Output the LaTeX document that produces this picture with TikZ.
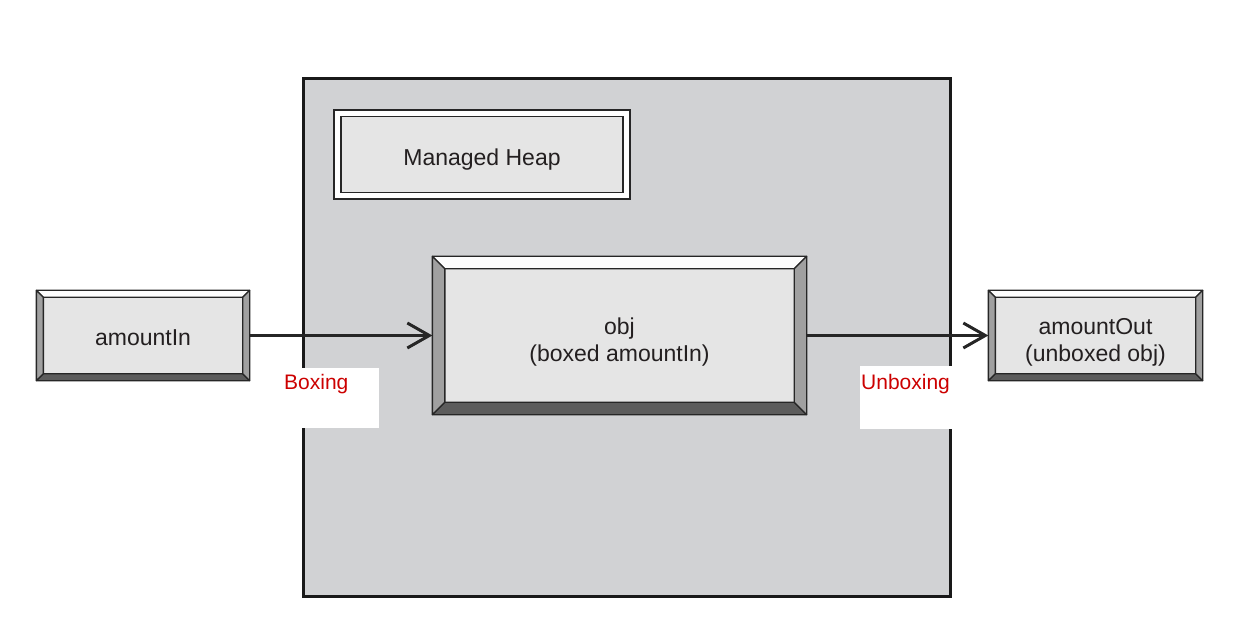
\documentclass[tikz,border=0pt]{standalone}
\usepackage{fontspec}
\setmainfont{Liberation Sans}
\usetikzlibrary{arrows.meta,calc}
\definecolor{heapfill}{RGB}{209,210,212}
\definecolor{boxfill}{RGB}{229,229,229}
\definecolor{bevside}{RGB}{160,160,160}
\definecolor{bevbot}{RGB}{92,92,92}
\definecolor{bevtop}{RGB}{253,253,253}
\definecolor{txt}{RGB}{35,31,32}
\definecolor{lblred}{RGB}{204,0,0}
\newcommand{\bevelit}[2]{%
  \filldraw[bevline,fill=bevtop] (#1.north west) -- (#1.north east) -- ([shift={(-#2,-#2)}]#1.north east) -- ([shift={(#2,-#2)}]#1.north west) -- cycle;
  \filldraw[bevline,fill=bevbot] (#1.south west) -- (#1.south east) -- ([shift={(-#2,#2)}]#1.south east) -- ([shift={(#2,#2)}]#1.south west) -- cycle;
  \filldraw[bevline,fill=bevside] (#1.north west) -- (#1.south west) -- ([shift={(#2,#2)}]#1.south west) -- ([shift={(#2,-#2)}]#1.north west) -- cycle;
  \filldraw[bevline,fill=bevside] (#1.north east) -- (#1.south east) -- ([shift={(-#2,#2)}]#1.south east) -- ([shift={(-#2,-#2)}]#1.north east) -- cycle;
}
\newcommand{\dn}[1]{\rule{0pt}{#1}}
\tikzset{
  x=1pt,y=1pt,
  bevline/.style={draw=black!85,line width=1.3pt,line join=round},
  bevnode/.style={draw=black!85,line width=1.3pt,fill=boxfill,inner sep=0pt,align=center,
    font=\fontsize{23}{27}\selectfont,text=txt},
  heap/.style={draw=black!90,line width=3pt,fill=heapfill,inner sep=0pt},
  conn/.style={line width=3pt,draw=black!85,-{Straight Barb[length=22pt,width=25pt,line width=3pt]}},
  lbl/.style={text=lblred,font=\fontsize{21}{25}\selectfont,inner sep=0pt,anchor=west},
  mask/.style={fill=white,draw=none}
}
\begin{document}
\begin{tikzpicture}
\useasboundingbox (0,0) rectangle (1249,627);
% managed heap area
\node[heap,minimum width=647,minimum height=517] (heap) at (626.5,289.5) {};
% Managed Heap title
\node[draw=black!85,line width=1.3pt,fill=white,minimum width=296,minimum height=89,inner sep=0pt] (titleout) at (482,472.5) {};
\node[draw=black!85,line width=1.3pt,fill=boxfill,minimum width=282,minimum height=76,inner sep=0pt,
  font=\fontsize{23}{27}\selectfont,text=txt] (title) at (482,472.5) {\dn{27pt}Managed Heap};
% boxes
\node[bevnode,minimum width=212,minimum height=89] (in) at (143,291.5) {\dn{21pt}amountIn};
\bevelit{in}{7}
\node[bevnode,minimum width=373,minimum height=157] (obj) at (619.5,291.5) {\dn{29pt}obj\\(boxed amountIn)};
\bevelit{obj}{12.5}
\node[bevnode,minimum width=213,minimum height=89] (out) at (1095.5,291.5) {\dn{29pt}amountOut\\(unboxed obj)};
\bevelit{out}{7}
% connectors
\draw[conn] (in.east) -- (obj.west);
\draw[conn] (obj.east) -- (out.west);
% label masks and labels
\fill[mask] (302,199) rectangle (379,259);
\fill[mask] (860,198) rectangle (952,261);
\node[lbl] (boxing) at (284,243) {Boxing};
\node[lbl] (unboxing) at (861,243) {Unboxing};
\end{tikzpicture}
\end{document}
